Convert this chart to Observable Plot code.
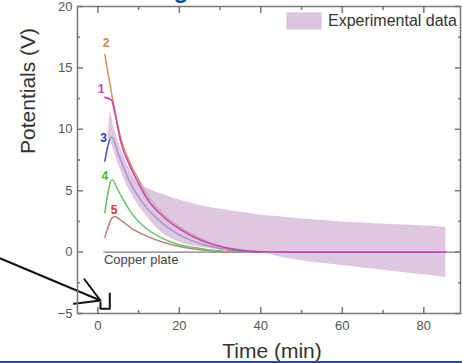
<!DOCTYPE html>
<html>
<head>
<meta charset="utf-8">
<script src="https://cdn.jsdelivr.net/npm/d3@7"></script>
<script src="https://cdn.jsdelivr.net/npm/@observablehq/plot@0.6"></script>
<style>
  html, body { margin: 0; padding: 0; background: #fff; }
  #wrap { position: relative; width: 462px; height: 363px; overflow: hidden; font-family: "Liberation Sans", Arial, sans-serif; }
  #legend { position: absolute; left: 286px; top: 12px; display: flex; align-items: center; }
  #legend .sw { width: 36px; height: 18px; background: #dcc5df; border: 1px solid #e4dbe6; box-sizing: border-box; }
  #legend .lb { margin-left: 6px; font-size: 16px; color: #333; line-height: 18px; }
  #bar { position: absolute; left: 0; top: 361px; width: 462px; height: 2px; background: #1f4f9e; }
</style>
</head>
<body>
<div id="wrap"></div>
<script>
// ---- data ----
const curve1T = [1.7, 3.4, 4, 5.6, 8, 10, 12, 16, 20, 25, 30, 35, 40, 50, 85.4];
const curve1V = [12.6, 12.35, 11.6, 9.0, 6.9, 5.6, 4.4, 2.9, 1.9, 1.0, 0.45, 0.15, 0.03, 0, 0];
const curve2T = [1.7, 3.5, 5.6, 8, 10, 12, 16, 20, 25, 30, 35, 40, 45];
const curve2V = [16.1, 12.7, 9.3, 7.2, 5.9, 4.7, 3.1, 2.05, 1.15, 0.5, 0.2, 0.05, 0];
const curve3T = [1.7, 3.4, 5, 8, 10, 12, 16, 20, 25, 30, 35, 40];
const curve3V = [7.4, 9.4, 8.0, 5.6, 4.5, 3.6, 2.3, 1.4, 0.7, 0.3, 0.1, 0];
const curve4T = [1.7, 3.5, 5, 8, 10, 12, 16, 20, 25, 30, 35];
const curve4V = [3.2, 5.9, 5.0, 3.3, 2.5, 1.9, 1.1, 0.6, 0.3, 0.1, 0];
const curve5T = [1.7, 4, 6, 8, 12, 16, 20, 25, 30, 35];
const curve5V = [1.2, 2.9, 2.5, 2.0, 1.3, 0.8, 0.45, 0.2, 0.05, 0];

const bandT    = [2.5, 3, 3.5, 4, 5, 6, 7, 8, 9, 10, 12, 14, 16, 18, 20, 22, 25, 28, 30, 33, 36, 40, 44, 48, 52, 56, 60, 64, 68, 72, 76, 80, 83, 85.4];
const bandHigh = [9.5, 11.5, 10.8, 10.0, 9.0, 8.1, 7.3, 6.6, 6.0, 5.6, 5.2, 4.9, 4.7, 4.45, 4.25, 4.05, 3.8, 3.6, 3.5, 3.35, 3.2, 3.0, 2.9, 2.75, 2.65, 2.55, 2.45, 2.38, 2.3, 2.25, 2.2, 2.12, 2.1, 2.0];
const bandLow  = [9.0, 9.2, 8.7, 8.2, 7.2, 6.3, 5.5, 4.9, 4.3, 3.8, 2.9, 2.1, 1.5, 1.1, 0.8, 0.6, 0.4, 0.25, 0.15, 0.08, 0.04, 0, -0.35, -0.6, -0.8, -0.95, -1.1, -1.25, -1.4, -1.55, -1.7, -1.85, -1.95, -2.1];

const copperT = [1.5, 89];
const copperV = [0, 0];

const curveLabels = ["1", "2", "3", "4", "5"];
const labelT = [0.8, 2.0, 1.4, 1.7, 4.0];
const labelV = [13.3, 17.0, 9.3, 6.2, 3.4];
const labelColors = ["#c23cc0", "#d0864a", "#3434b4", "#34c034", "#e03434"];

const arrowT = [-23.9, 0.64];
const arrowV = [-0.52, -3.94];
const bracketT = [0.64, 0.64, 2.92, 2.92];
const bracketV = [-4.1, -4.62, -4.62, -3.37];

const xMajor = [0, 20, 40, 60, 80];
const xMinor = [10, 30, 50, 70];
const yMajor = [-5, 0, 5, 10, 15, 20];
const yMinor = [-2.5, 2.5, 7.5, 12.5, 17.5];

const toRows = (T, V) => T.map((t, i) => ({t, v: V[i]}));
const band = bandT.map((t, i) => ({t, lo: bandLow[i], hi: bandHigh[i]}));
const labels = curveLabels.map((s, i) => ({s, t: labelT[i], v: labelV[i], c: labelColors[i]}));
const arrow = [{x1: arrowT[0], y1: arrowV[0], x2: arrowT[1], y2: arrowV[1]}];

const tickColor = "#777";
const none = () => "";

const chart = Plot.plot({
  width: 462, height: 363,
  marginLeft: 77, marginRight: 2, marginTop: 6, marginBottom: 50,
  x: {domain: [-5, 89]},
  y: {domain: [-5, 20]},
  style: {fontFamily: "'Liberation Sans', Arial, sans-serif", background: "transparent", overflow: "visible"},
  marks: [
    Plot.line(toRows(copperT, copperV), {x: "t", y: "v", stroke: "#808080", strokeWidth: 1.3}),
    Plot.line(toRows(curve5T, curve5V), {x: "t", y: "v", stroke: "#c47c7c", strokeWidth: 1.5, curve: "monotone-x"}),
    Plot.line(toRows(curve4T, curve4V), {x: "t", y: "v", stroke: "#60c860", strokeWidth: 1.5, curve: "monotone-x"}),
    Plot.line(toRows(curve3T, curve3V), {x: "t", y: "v", stroke: "#5050c4", strokeWidth: 1.5, curve: "monotone-x"}),
    Plot.line(toRows(curve2T, curve2V), {x: "t", y: "v", stroke: "#d9955c", strokeWidth: 1.5, curve: "monotone-x"}),
    Plot.areaY(band, {x: "t", y1: "lo", y2: "hi", fill: "#d0b0d3", fillOpacity: 0.7, curve: "linear"}),
    Plot.line(toRows(curve1T, curve1V), {x: "t", y: "v", stroke: "#c844b8", strokeWidth: 1.6, curve: "monotone-x"}),
    Plot.text(labels, {x: "t", y: "v", text: "s", fill: "c", fontSize: 12, fontWeight: "bold"}),
    Plot.text(["Copper plate"], {x: 1.5, y: 0, text: d => d, textAnchor: "start", lineAnchor: "top", dy: 3, fontSize: 13, fill: "#444"}),
    Plot.arrow(arrow, {x1: "x1", y1: "y1", x2: "x2", y2: "y2", stroke: "#111", strokeWidth: 2, headLength: 20, headAngle: 60}),
    Plot.line(toRows(bracketT, bracketV), {x: "t", y: "v", stroke: "#111", strokeWidth: 2}),
    Plot.frame({stroke: tickColor, strokeWidth: 1.5}),
    Plot.axisX({ticks: xMajor, tickSize: -6, tickPadding: 13, fontSize: 13, color: "#555", stroke: tickColor, strokeWidth: 1.5, label: null}),
    Plot.axisX({ticks: xMinor, tickSize: -3, tickFormat: none, stroke: tickColor, strokeWidth: 1.5, label: null}),
    Plot.axisX({anchor: "top", ticks: xMajor, tickSize: -6, tickFormat: none, stroke: tickColor, strokeWidth: 1.5, label: null}),
    Plot.axisX({anchor: "top", ticks: xMinor, tickSize: -3, tickFormat: none, stroke: tickColor, strokeWidth: 1.5, label: null}),
    Plot.axisY({ticks: yMajor, tickSize: -6, tickPadding: 11, fontSize: 13, color: "#555", stroke: tickColor, strokeWidth: 1.5, label: null}),
    Plot.axisY({ticks: yMinor, tickSize: -3, tickFormat: none, stroke: tickColor, strokeWidth: 1.5, label: null}),
    Plot.axisY({anchor: "right", ticks: yMajor, tickSize: -6, tickFormat: none, stroke: tickColor, strokeWidth: 1.5, label: null}),
    Plot.axisY({anchor: "right", ticks: yMinor, tickSize: -3, tickFormat: none, stroke: tickColor, strokeWidth: 1.5, label: null}),
    Plot.text(["Time (min)"], {frameAnchor: "bottom", text: d => d, dy: 38, dx: 3, fontSize: 21, fill: "#333", lineAnchor: "middle"}),
    Plot.text(["Potentials (V)"], {frameAnchor: "left", text: d => d, dx: -49, dy: -6, rotate: -90, fontSize: 21, fill: "#333", lineAnchor: "middle"})
  ]
});

const wrap = document.getElementById("wrap");
chart.style.position = "absolute";
chart.style.left = "0px";
chart.style.top = "0px";
wrap.appendChild(chart);

const ns = "http://www.w3.org/2000/svg";
const topSvg = document.createElementNS(ns, "svg");
topSvg.setAttribute("width", "462");
topSvg.setAttribute("height", "8");
topSvg.style.position = "absolute";
topSvg.style.left = "0px";
topSvg.style.top = "0px";
const gText = document.createElementNS(ns, "text");
gText.setAttribute("x", "181");
gText.setAttribute("y", "-2");
gText.setAttribute("text-anchor", "middle");
gText.setAttribute("font-size", "24");
gText.setAttribute("font-weight", "bold");
gText.setAttribute("font-family", "'Liberation Sans', Arial, sans-serif");
gText.setAttribute("fill", "#0b4ea2");
gText.textContent = "g";
topSvg.appendChild(gText);
wrap.appendChild(topSvg);

const legend = document.createElement("div");
legend.id = "legend";
legend.innerHTML = '<div class="sw"></div><div class="lb">Experimental data</div>';
wrap.appendChild(legend);

const bar = document.createElement("div");
bar.id = "bar";
wrap.appendChild(bar);
</script>
</body>
</html>
